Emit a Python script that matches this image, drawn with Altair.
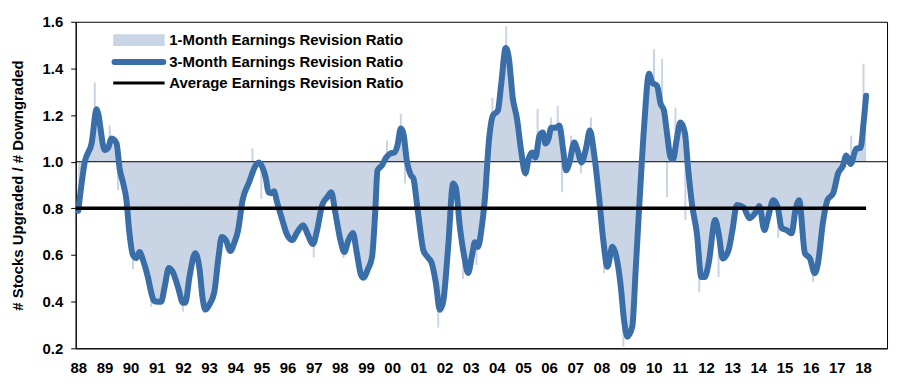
import altair as alt
import pandas as pd

# ---- data ----
dates_3m = [1988.00, 1988.25, 1988.51, 1988.70, 1989.01, 1989.14, 1989.27, 1989.46, 1989.58, 1989.71,
            1989.84, 1989.94, 1990.09, 1990.22, 1990.34, 1990.47, 1990.66, 1990.79, 1990.89, 1991.04,
            1991.17, 1991.30, 1991.46, 1991.61, 1991.81, 1992.00, 1992.09, 1992.25, 1992.47, 1992.63,
            1992.76, 1992.86, 1993.01, 1993.20, 1993.37, 1993.48, 1993.64, 1993.81, 1993.96, 1994.11,
            1994.28, 1994.53, 1994.78, 1994.91, 1995.04, 1995.17, 1995.27, 1995.38, 1995.48, 1995.61,
            1995.80, 1995.99, 1996.18, 1996.37, 1996.60, 1996.75, 1996.97, 1997.13, 1997.32, 1997.51,
            1997.67, 1997.83, 1998.02, 1998.17, 1998.33, 1998.50, 1998.65, 1998.81, 1998.91, 1999.06,
            1999.23, 1999.35, 1999.44, 1999.61, 1999.77, 1999.92, 2000.09, 2000.20, 2000.33, 2000.43,
            2000.56, 2000.72, 2000.81, 2000.94, 2001.06, 2001.19, 2001.32, 2001.51, 2001.67, 2001.82,
            2001.95, 2002.14, 2002.33, 2002.43, 2002.59, 2002.78, 2002.90, 2003.07, 2003.16, 2003.28,
            2003.41, 2003.54, 2003.70, 2003.85, 2004.04, 2004.17, 2004.34, 2004.46, 2004.61, 2004.77,
            2004.93, 2005.09, 2005.22, 2005.35, 2005.48, 2005.63, 2005.76, 2005.86, 2005.98, 2006.08,
            2006.27, 2006.39, 2006.54, 2006.65, 2006.77, 2006.96, 2007.09, 2007.24, 2007.41, 2007.56,
            2007.72, 2007.91, 2008.07, 2008.23, 2008.42, 2008.57, 2008.74, 2008.86, 2008.99, 2009.18,
            2009.31, 2009.46, 2009.63, 2009.82, 2009.94, 2010.13, 2010.26, 2010.39, 2010.51, 2010.64,
            2010.74, 2010.87, 2011.02, 2011.19, 2011.31, 2011.46, 2011.65, 2011.82, 2011.95, 2012.10,
            2012.35, 2012.48, 2012.64, 2012.86, 2013.01, 2013.18, 2013.43, 2013.66, 2013.88, 2014.04,
            2014.23, 2014.38, 2014.57, 2014.74, 2014.89, 2015.08, 2015.27, 2015.42, 2015.56, 2015.78,
            2015.97, 2016.16, 2016.28, 2016.47, 2016.64, 2016.86, 2017.05, 2017.24, 2017.36, 2017.53,
            2017.74, 2017.91, 2018.02, 2018.12]
vals_3m = [0.79, 1.00, 1.08, 1.225, 1.05, 1.06, 1.10, 1.08, 0.97, 0.91,
           0.835, 0.71, 0.60, 0.587, 0.613, 0.58, 0.506, 0.438, 0.404, 0.40,
           0.40, 0.463, 0.544, 0.527, 0.463, 0.395, 0.395, 0.506, 0.608, 0.544,
           0.408, 0.366, 0.387, 0.442, 0.60, 0.677, 0.664, 0.617, 0.651, 0.707,
           0.835, 0.912, 0.984, 0.997, 0.976, 0.929, 0.869, 0.865, 0.873, 0.822,
           0.75, 0.685, 0.664, 0.698, 0.728, 0.694, 0.647, 0.707, 0.813, 0.847,
           0.869, 0.779, 0.664, 0.613, 0.664, 0.694, 0.608, 0.514, 0.502, 0.536,
           0.591, 0.779, 0.963, 0.984, 1.018, 1.035, 1.04, 1.069, 1.142, 1.12,
           1.005, 0.941, 0.929, 0.826, 0.719, 0.621, 0.596, 0.566, 0.481, 0.365,
           0.40, 0.634, 0.907, 0.89, 0.719, 0.579, 0.523, 0.608, 0.655, 0.634,
           0.707, 0.835, 1.091, 1.198, 1.219, 1.334, 1.488, 1.445, 1.274, 1.185,
           1.048, 0.95, 1.014, 1.04, 1.018, 1.112, 1.125, 1.078, 1.099, 1.146,
           1.146, 1.155, 1.048, 0.963, 0.993, 1.082, 1.048, 0.997, 1.057, 1.134,
           1.035, 0.848, 0.665, 0.55, 0.635, 0.593, 0.465, 0.325, 0.25, 0.293,
           0.536, 0.835, 1.147, 1.377, 1.34, 1.325, 1.25, 1.22, 1.12, 1.02,
           1.01, 1.09, 1.168, 1.125, 0.976, 0.82, 0.693, 0.506, 0.506, 0.565,
           0.75, 0.693, 0.585, 0.62, 0.707, 0.814, 0.805, 0.758, 0.78, 0.81,
           0.707, 0.765, 0.835, 0.805, 0.715, 0.707, 0.693, 0.792, 0.835, 0.608,
           0.585, 0.522, 0.565, 0.74, 0.835, 0.865, 0.95, 0.984, 1.027, 0.99,
           1.056, 1.06, 1.163, 1.283]

# 1-month ratio: monthly readings where the bars stick out beyond the 3-month line
dates_1m = [1988.63, 1989.20, 1989.52, 1990.09, 1990.28, 1990.79, 1992.00, 1992.38, 1992.80, 1993.39,
            1994.66, 1995.00, 1997.00, 1997.57, 1998.14, 1999.80, 2000.33, 2000.49, 2001.76, 2002.33,
            2002.71, 2003.01, 2003.22, 2003.83, 2004.36, 2005.12, 2005.56, 2006.07, 2006.33, 2006.49,
            2006.84, 2007.22, 2007.60, 2008.10, 2008.42, 2008.84, 2010.01, 2010.32, 2010.51, 2010.83,
            2011.21, 2011.74, 2012.48, 2014.00, 2014.76, 2015.46, 2016.09, 2016.60, 2017.55, 2018.02]
vals_1m = [1.34, 1.155, 0.878, 0.54, 0.673, 0.378, 0.357, 0.664, 0.353, 0.707,
           1.057, 0.84, 0.59, 0.92, 0.587, 1.091, 1.206, 0.907, 0.289, 0.971,
           0.498, 0.707, 0.557, 1.274, 1.582, 0.933, 1.227, 1.189, 1.24, 0.869,
           1.112, 0.95, 1.189, 0.523, 0.707, 0.207, 1.483, 1.441, 0.848, 1.232,
           0.75, 0.442, 0.506, 0.898, 0.673, 0.869, 0.485, 0.95, 1.112, 1.42]

parity_level = 1.0
average_level = 0.8
average_span = [1987.9, 2018.12]
year_ticks = list(range(1988, 2019))
y_ticks = [0.2, 0.4, 0.6, 0.8, 1.0, 1.2, 1.4, 1.6]
legend_labels = ["1-Month Earnings Revision Ratio",
                 "3-Month Earnings Revision Ratio",
                 "Average Earnings Revision Ratio"]
y_title = "# Stocks Upgraded / # Downgraded"

# ---- styling ----
FILL = "#c9d4e5"
LINE = "#3a6ea8"
FONT = "Liberation Sans"
FS = 15

df3 = pd.DataFrame({"t": dates_3m, "v": vals_3m})
df1 = pd.DataFrame({"t": dates_1m, "v": vals_1m})
dfp = pd.DataFrame({"v": [parity_level]})
dfa = pd.DataFrame({"t": [average_span[0]], "t2": [average_span[1]], "v": [average_level]})

xscale = alt.Scale(domain=[1987.9, 2018.92], nice=False, zero=False)
yscale = alt.Scale(domain=[0.2, 1.6], nice=False, zero=False)

xaxis = alt.Axis(values=year_ticks, labelExpr="format(datum.value % 100, '02d')",
                 ticks=False, grid=False, domainColor="black", domainWidth=1,
                 labelFont=FONT, labelFontSize=FS, labelFontWeight="bold", labelColor="black",
                 labelPadding=12, labelFlush=False, labelOverlap=False, title=None)
yaxis = alt.Axis(values=y_ticks, format=".1f", tickSize=5, tickColor="black", domainColor="black",
                 grid=False, labelFont=FONT, labelFontSize=FS, labelFontWeight="bold",
                 labelColor="black", labelPadding=8, title=y_title, titleFont=FONT,
                 titleFontSize=FS, titleFontWeight="bold", titleColor="black", titlePadding=17)

X = alt.X("t:Q", scale=xscale, axis=xaxis)
Y = alt.Y("v:Q", scale=yscale, axis=yaxis)

area = alt.Chart(df3).mark_area(color=FILL, interpolate="monotone").encode(
    x=X, y=Y, y2=alt.datum(parity_level))
bars = alt.Chart(df1).mark_rule(color=FILL, strokeWidth=2).encode(
    x=X, y=Y, y2=alt.datum(parity_level))
parity = alt.Chart(dfp).mark_rule(color="black", strokeWidth=1).encode(y=Y)
line3 = alt.Chart(df3).mark_line(color=LINE, strokeWidth=6, interpolate="monotone",
                                 strokeCap="round", strokeJoin="round").encode(x=X, y=Y)
avg = alt.Chart(dfa).mark_rule(color="black", strokeWidth=3.5).encode(
    x=X, x2="t2:Q", y=Y)

def leg_text(label, ypix):
    return alt.Chart(pd.DataFrame({"label": [label]})).mark_text(
        align="left", baseline="middle", font=FONT, fontSize=FS, fontWeight="bold",
        color="black").encode(x=alt.value(94), y=alt.value(ypix), text="label:N")

one = pd.DataFrame({"k": [0]})
leg1 = alt.Chart(one).mark_rect(color=FILL).encode(
    x=alt.value(37.7), x2=alt.value(89.3), y=alt.value(12.6), y2=alt.value(24.3))
leg2 = alt.Chart(one).mark_rule(color=LINE, strokeWidth=6, strokeCap="round").encode(
    x=alt.value(39), x2=alt.value(88), y=alt.value(40.3))
leg3 = alt.Chart(one).mark_rule(color="black", strokeWidth=3).encode(
    x=alt.value(37.7), x2=alt.value(89.3), y=alt.value(61.6))

chart = alt.layer(
    area, bars, parity, line3, avg,
    leg1, leg2, leg3,
    leg_text(legend_labels[0], 18.6),
    leg_text(legend_labels[1], 40.3),
    leg_text(legend_labels[2], 61.6),
).properties(
    width=815, height=328,
    padding={"left": 2, "top": 6, "right": 5, "bottom": 5},
    background="white",
).configure_view(stroke="black", strokeWidth=1)

chart.save("out.html", embed_options={"renderer": "svg", "actions": False})
